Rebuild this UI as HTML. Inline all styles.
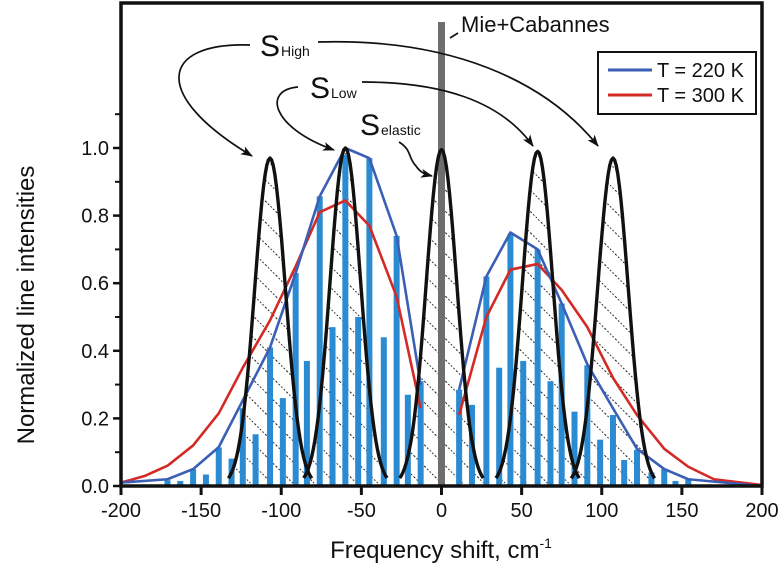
<!DOCTYPE html>
<html><head><meta charset="utf-8">
<style>
html,body{margin:0;padding:0;background:#fff;}
svg{display:block;font-family:"Liberation Sans",Arial,sans-serif;}
</style></head>
<body>
<svg id="chart" width="782" height="576" viewBox="0 0 782 576">
<defs>
<pattern id="hatch" patternUnits="userSpaceOnUse" width="15" height="15" patternTransform="rotate(-45)">
<line x1="0" y1="0" x2="0" y2="15" stroke="#000" stroke-width="1.8" stroke-dasharray="1.6 2"/>
</pattern>
<marker id="arr" markerWidth="12" markerHeight="9" refX="11" refY="4.5" orient="auto" markerUnits="userSpaceOnUse">
<path d="M0,0 L12,4.5 L0,9 L3,4.5 Z" fill="#111"/></marker>
</defs>
<g id="hatchLayer"></g>
<g id="barsLayer"></g>
<rect id="mieBar" fill="#6e6e6e"/>
<g id="linesLayer"></g>
<g id="peaksLayer"></g>
<g id="axes"></g>

<g fill="none" stroke="#111" stroke-width="1.7">
<path d="M250,45 C160,42 150,95 252,156" marker-end="url(#arr)"/>
<path d="M318,42 C450,38 545,80 598,146" marker-end="url(#arr)"/>
<path d="M298,87 C262,90 272,128 334,150" marker-end="url(#arr)"/>
<path d="M362,82 C440,82 500,100 533,146" marker-end="url(#arr)"/>
<path d="M399,142 C412,150 408,158 416,166 C420,172 424,174 432,176" marker-end="url(#arr)"/>
<path d="M450,38 L458,33"/>
</g>
<text x="260" y="56" font-size="30" fill="#111">S<tspan font-size="14" dx="1">High</tspan></text>
<text x="310" y="98" font-size="30" fill="#111">S<tspan font-size="14" dx="1">Low</tspan></text>
<text x="360" y="135" font-size="30" fill="#111">S<tspan font-size="14" dx="1">elastic</tspan></text>
<text x="461" y="32" font-size="22" fill="#111">Mie+Cabannes</text>

<g>
<rect x="598" y="52" width="158" height="62" fill="#fff" stroke="#111" stroke-width="2"/>
<line x1="608" y1="70" x2="652" y2="70" stroke="#3a5fb4" stroke-width="3"/>
<text x="657" y="77" font-size="20" fill="#111">T = 220 K</text>
<line x1="608" y1="95" x2="652" y2="95" stroke="#d42a26" stroke-width="3"/>
<text x="657" y="102" font-size="20" fill="#111">T = 300 K</text>
</g>

<text x="441" y="558" font-size="24" text-anchor="middle" fill="#111">Frequency shift, cm<tspan font-size="14" dy="-10">-1</tspan></text>
<text transform="translate(34,305) rotate(-90)" font-size="24" text-anchor="middle" fill="#111">Normalized line intensities</text>
</svg>
<script>
const barFreqs = [-171,-163,-155,-147,-139,-131,-124,-116,-107,-99,-91,-84,-76,-68,-60,-52,-45,-36,-28,-21,-13,
  11,19,28,36,43,51,60,68,75,83,91,99,107,114,122,131,139,146,154];
const barValues = [0.017,0.015,0.05,0.034,0.114,0.081,0.23,0.153,0.41,0.26,0.63,0.37,0.857,0.47,0.98,0.50,0.97,0.44,0.74,0.27,0.31,
  0.285,0.24,0.62,0.35,0.746,0.37,0.70,0.31,0.54,0.22,0.357,0.137,0.21,0.077,0.107,0.04,0.05,0.015,0.02];
const blueLeftX = [-200,-171,-155,-139,-107,-91,-76,-60,-45,-28,-13];
const blueLeftY = [0.01,0.02,0.05,0.115,0.41,0.63,0.857,1.0,0.97,0.74,0.30];
const blueRightX = [11,28,43,60,75,91,107,122,139,154,200];
const blueRightY = [0.285,0.62,0.75,0.70,0.54,0.36,0.23,0.11,0.05,0.02,0.0];
const redLeftX = [-200,-185,-171,-155,-139,-124,-107,-91,-76,-60,-45,-28,-13];
const redLeftY = [0.01,0.03,0.06,0.12,0.215,0.35,0.49,0.65,0.81,0.845,0.77,0.56,0.23];
const redRightX = [11,28,43,60,75,91,107,122,139,154,170,200];
const redRightY = [0.21,0.50,0.64,0.657,0.58,0.47,0.32,0.21,0.11,0.057,0.02,0.003];
const peakCenters = [-107,-60,0,60,107];
const peakHeights = [0.97,1.0,0.995,0.99,0.97];
const xTicks = [-200,-150,-100,-50,0,50,100,150,200];
const xTickLabels = ["-200","-150","-100","-50","0","50","100","150","200"];
const yTicks = [0,0.2,0.4,0.6,0.8,1.0];
const yTickLabels = ["0.0","0.2","0.4","0.6","0.8","1.0"];

const NS="http://www.w3.org/2000/svg";
const X0=121,X1=762,Y0=486,Y1=148;
const xs=f=>X0+(f+200)/400*(X1-X0);
const ys=v=>Y0-v*(Y0-Y1);
function mk(tag,attrs,parent){const e=document.createElementNS(NS,tag);for(const k in attrs)e.setAttribute(k,attrs[k]);parent.appendChild(e);return e;}

const bl=document.getElementById('barsLayer');
barFreqs.forEach((f,i)=>{
  const r=mk('rect',{x:xs(f)-3,y:ys(barValues[i]),width:6,height:Y0-ys(barValues[i]),fill:'#2a8bd2'},bl);
  
  
});

const mb=document.getElementById('mieBar');
mb.setAttribute('x',xs(0)-3.5);mb.setAttribute('y',22);mb.setAttribute('width',7);mb.setAttribute('height',Y0-22);

const ll=document.getElementById('linesLayer');
function poly(xa,ya,color,name){
  const p=mk('polyline',{points:xa.map((x,i)=>xs(x)+','+ys(ya[i])).join(' '),fill:'none',stroke:color,'stroke-width':2.6,'stroke-linejoin':'round'},ll);
  
  
}
poly(redLeftX,redLeftY,'#d42a26','line-300k-left');
poly(redRightX,redRightY,'#d42a26','line-300k-right');
poly(blueLeftX,blueLeftY,'#3a5fb4','line-220k-left');
poly(blueRightX,blueRightY,'#3a5fb4','line-220k-right');

const pl=document.getElementById('peaksLayer');
const hl=document.getElementById('hatchLayer');
const sigma=9.5, half=26;
peakCenters.forEach((c,i)=>{
  let pts=[];
  for(let d=-half;d<=half;d+=1){pts.push(xs(c+d).toFixed(1)+','+ys(peakHeights[i]*Math.exp(-d*d/(2*sigma*sigma))).toFixed(1));}
  const h=mk('polygon',{points:pts.join(' ')+' '+xs(c+half)+','+Y0+' '+xs(c-half)+','+Y0,fill:'url(#hatch)',stroke:'none'},hl);
  
  
  const p=mk('polyline',{points:pts.join(' '),fill:'none',stroke:'#111','stroke-width':3.4,'stroke-linejoin':'round'},pl);
  
  
});

const ax=document.getElementById('axes');
mk('rect',{x:X0,y:3,width:X1-X0,height:Y0-3,fill:'none',stroke:'#111','stroke-width':3.5},ax);
xTicks.forEach((t,i)=>{
  mk('line',{x1:xs(t),y1:Y0,x2:xs(t),y2:Y0+9,stroke:'#111','stroke-width':3},ax);
  const tx=mk('text',{x:xs(t),y:Y0+31,'font-size':20,'text-anchor':'middle',fill:'#111'},ax);
  tx.textContent=xTickLabels[i];
  
  
});
for(let k=1;k<=11;k++){mk('line',{x1:X0-6,y1:ys(k/10),x2:X0,y2:ys(k/10),stroke:'#111','stroke-width':2},ax);}
yTicks.forEach((t,i)=>{
  mk('line',{x1:X0-8,y1:ys(t),x2:X0,y2:ys(t),stroke:'#111','stroke-width':2.5},ax);
  const tx=mk('text',{x:X0-12,y:ys(t)+7,'font-size':20,'text-anchor':'end',fill:'#111'},ax);
  tx.textContent=yTickLabels[i];
  
  
});
</script>
</body></html>
